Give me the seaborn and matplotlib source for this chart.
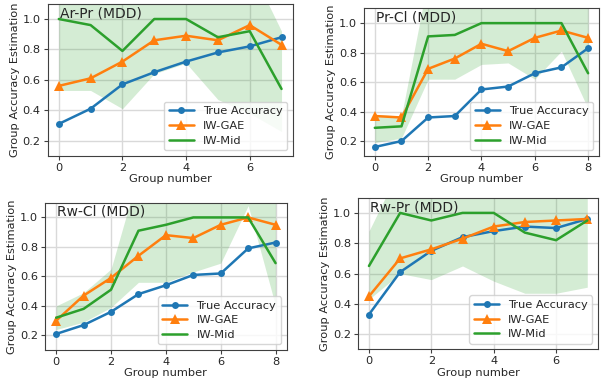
import numpy as np
import matplotlib
matplotlib.use("Agg")
import matplotlib.pyplot as plt
import seaborn as sns

sns.set_theme(style="ticks", rc={
    "axes.grid": True,
    "grid.color": "0.85",
    "axes.edgecolor": "0.25",
    "font.size": 8.2,
})
plt.rcParams["font.family"] = ["DejaVu Sans"]

# ---- data ----
titles = ["Ar-Pr (MDD)", "Pr-Cl (MDD)", "Rw-Cl (MDD)", "Rw-Pr (MDD)"]

true_acc = [
    [0.31, 0.41, 0.57, 0.65, 0.72, 0.78, 0.82, 0.88],
    [0.16, 0.20, 0.36, 0.37, 0.55, 0.57, 0.66, 0.70, 0.83],
    [0.21, 0.27, 0.36, 0.48, 0.54, 0.61, 0.62, 0.79, 0.83],
    [0.33, 0.61, 0.75, 0.84, 0.88, 0.91, 0.90, 0.96],
]
iw_gae = [
    [0.56, 0.61, 0.72, 0.86, 0.89, 0.86, 0.96, 0.83],
    [0.37, 0.36, 0.69, 0.76, 0.86, 0.81, 0.90, 0.95, 0.90],
    [0.30, 0.47, 0.59, 0.74, 0.88, 0.86, 0.95, 1.00, 0.95],
    [0.45, 0.70, 0.76, 0.83, 0.91, 0.94, 0.95, 0.96],
]
iw_mid = [
    [1.00, 0.96, 0.79, 1.00, 1.00, 0.88, 0.92, 0.54],
    [0.29, 0.30, 0.91, 0.92, 1.00, 1.00, 1.00, 1.00, 0.66],
    [0.32, 0.38, 0.51, 0.91, 0.95, 1.00, 1.00, 1.00, 0.69],
    [0.65, 1.00, 0.95, 1.00, 1.00, 0.87, 0.82, 0.95],
]
band_low = [
    [0.53, 0.53, 0.41, 0.64, 0.71, 0.47, 0.38, 0.26],
    [0.19, 0.22, 0.62, 0.62, 0.72, 0.73, 0.62, 0.81, 0.42],
    [0.24, 0.29, 0.39, 0.56, 0.56, 0.63, 0.69, 1.08, 0.40],
    [0.43, 0.60, 0.56, 0.65, 0.55, 0.47, 0.47, 0.51],
]
band_high = [
    [1.35, 1.35, 1.35, 1.35, 1.35, 1.35, 1.35, 0.92],
    [0.38, 0.37, 1.30, 1.30, 1.30, 1.30, 1.30, 1.30, 1.12],
    [0.40, 0.49, 0.65, 1.30, 1.30, 1.30, 1.30, 1.30, 1.30],
    [0.88, 1.30, 1.30, 1.30, 1.30, 1.30, 1.30, 1.30],
]

# axes rectangles in figure fractions
positions = [
    [0.078, 0.591, 0.401, 0.399],
    [0.596, 0.591, 0.384, 0.387],
    [0.074, 0.081, 0.395, 0.387],
    [0.586, 0.083, 0.393, 0.398],
]

fig = plt.figure(figsize=(6.11, 3.81), dpi=100)

for i in range(4):
    ax = fig.add_axes(positions[i])
    groups = np.arange(len(true_acc[i]))
    sns.lineplot(x=groups, y=true_acc[i], ax=ax, color="tab:blue", marker="o",
                 markersize=5, markeredgewidth=0, linewidth=1.8, label="True Accuracy")
    sns.lineplot(x=groups, y=iw_gae[i], ax=ax, color="tab:orange", marker="^",
                 markersize=7.5, markeredgewidth=0, linewidth=1.8, label="IW-GAE")
    sns.lineplot(x=groups, y=iw_mid[i], ax=ax, color="tab:green",
                 linewidth=1.8, label="IW-Mid")
    ax.fill_between(groups, band_low[i], band_high[i], color="tab:green",
                    alpha=0.2, linewidth=0)
    ax.set_ylim(0.1, 1.1)
    ax.set_yticks([0.2, 0.4, 0.6, 0.8, 1.0])
    ax.set_xticks(range(0, len(groups), 2))
    ax.tick_params(labelsize=8.2, length=3, width=0.8, color="0.25", pad=2)
    ax.set_xlabel("Group number", fontsize=8.2, labelpad=1)
    ax.set_ylabel("Group Accuracy Estimation", fontsize=8.2, labelpad=2)
    ax.text(0.03, 1.01, titles[i], fontsize=10, ha="left", va="baseline")
    ax.legend(loc="lower right", fontsize=8.2, handlelength=2.2,
              framealpha=0.8, edgecolor="0.8", borderpad=0.4, labelspacing=0.4)
    for s in ax.spines.values():
        s.set_linewidth(0.8)

fig.savefig("out.png", dpi=100)
